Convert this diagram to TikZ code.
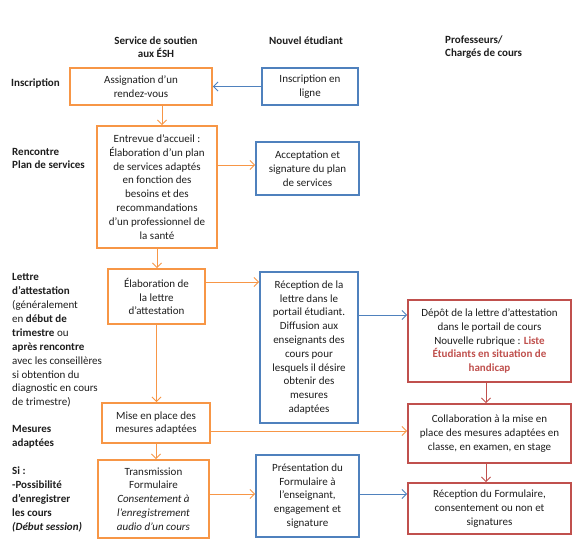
\documentclass[tikz,border=0pt]{standalone}
\usepackage{fontspec}
\setmainfont{Carlito}
\usetikzlibrary{arrows.meta}
\definecolor{orng}{HTML}{F79646}
\definecolor{blu}{HTML}{4F81BD}
\definecolor{rd}{HTML}{C0504D}
\definecolor{txt}{HTML}{1E1E1E}
\begin{document}
\begin{tikzpicture}[x=1pt,y=-1pt,
  every node/.style={font=\fontsize{11}{13.8}\selectfont, text=txt, inner sep=0pt},
  boxbase/.style={draw, line width=1.8pt, fill=white, align=center},
  obox/.style={boxbase, draw=orng},
  bbox/.style={boxbase, draw=blu},
  rbox/.style={boxbase, draw=rd},
  lbl/.style={anchor=west, align=left, font=\fontsize{11}{13.9}\selectfont},
  hdr/.style={font=\fontsize{11}{12.7}\selectfont\bfseries},
  arr/.style={line width=0.9pt, -{Straight Barb[length=4.5pt,width=9pt]}},
  oarr/.style={arr, draw=orng},
  barr/.style={arr, draw=blu},
  rarr/.style={arr, draw=rd}]
\useasboundingbox (0,0) rectangle (585,543);
\fill[white] (0,0) rectangle (585,543);

% headers
\node[hdr, align=center] (h1) at (156,47) {Service de soutien\\aux ÉSH};
\node[hdr] (h2) at (306,41) {Nouvel étudiant};
\node[hdr, align=left, anchor=west] (h3) at (445,47) {Professeurs/\\Chargés de cours};

% left labels
\node[lbl] (l1) at (11,83) {\textbf{Inscription}};
\node[lbl] (l2) at (12,158.5) {\textbf{Rencontre}\\\textbf{Plan de services}};
\node[lbl] (l3) at (12,340.5) {\textbf{Lettre}\\\textbf{d’attestation}\\(généralement\\en \textbf{début de}\\\textbf{trimestre} ou\\\textbf{après rencontre}\\avec les conseillères\\si obtention du\\diagnostic en cours\\de trimestre)};
\node[lbl] (l4) at (12,436.5) {\textbf{Mesures}\\\textbf{adaptées}};
\node[lbl] (l5) at (12,499.5) {\textbf{Si :}\\\textbf{-Possibilité}\\\textbf{d’enregistrer}\\\textbf{les cours}\\\textbf{\textit{(Début session)}}};

% column A
\node[obox, minimum width=142pt, minimum height=37pt] (A1) at (141,86.5) {Assignation d’un\\rendez-vous};
\node[obox, minimum width=120pt, minimum height=122pt] (A2) at (157,187) {Entrevue d’accueil :\\Élaboration d’un plan\\de services adaptés\\en fonction des\\besoins et des\\recommandations\\d’un professionnel de\\la santé};
\node[obox, minimum width=97pt, minimum height=55pt] (A3) at (156.5,296.5) {Élaboration de\\la lettre\\d’attestation};
\node[obox, minimum width=108pt, minimum height=40pt] (A4) at (156,423) {Mise en place des\\mesures adaptées};
\node[obox, minimum width=111pt, minimum height=78pt] (A5) at (153.5,499) {Transmission\\Formulaire\\\textit{Consentement à}\\\textit{l’enregistrement}\\\textit{audio d’un cours}};

% column B
\node[bbox, minimum width=96pt, minimum height=37pt] (B1) at (310,86.5) {Inscription en\\ligne};
\node[bbox, minimum width=103pt, minimum height=53pt] (B2) at (307.5,168.5) {Acceptation et\\signature du plan\\de services};
\node[bbox, minimum width=98pt, minimum height=151pt] (B3) at (309,347.5) {Réception de la\\lettre dans le\\portail étudiant.\\Diffusion aux\\enseignants des\\cours pour\\lesquels il désire\\obtenir des\\mesures\\adaptées};
\node[bbox, minimum width=103pt, minimum height=82pt] (B5) at (307.5,496) {Présentation du\\Formulaire à\\l’enseignant,\\engagement et\\signature};

% column C
\node[rbox, minimum width=163pt, minimum height=82pt] (C3) at (489.5,341) {Dépôt de la lettre d’attestation\\dans le portail de cours\\Nouvelle rubrique : \textcolor{rd}{\textbf{Liste}}\\\textcolor{rd}{\textbf{Étudiants en situation de}}\\\textcolor{rd}{\textbf{handicap}}};
\node[rbox, minimum width=163pt, minimum height=59pt] (C4) at (489.5,433.5) {Collaboration à la mise en\\place des mesures adaptées en\\classe, en examen, en stage};
\node[rbox, minimum width=163pt, minimum height=51pt] (C5) at (489.5,508.5) {Réception du Formulaire,\\consentement ou non et\\signatures};

% helper coordinates
\coordinate (x162) at (162,0);
\coordinate (x486) at (486,0);
\coordinate (y165) at (0,165);
\coordinate (y282) at (0,282);
\coordinate (y315) at (0,315);
\coordinate (y431) at (0,431);
\coordinate (y494) at (0,494);

% connectors
\draw[barr] (B1.west) -- (A1.east);
\draw[oarr] (A1.south -| x162) -- (A2.north -| x162);
\draw[oarr] (A2.east |- y165) -- (B2.west |- y165);
\draw[oarr] (A2.south) -- (A3.north -| A2.south);
\draw[oarr] (A3.east |- y282) -- (B3.west |- y282);
\draw[barr] (B3.east |- y315) -- (C3.west |- y315);
\draw[oarr] (A3.south) -- (A4.north -| A3.south);
\draw[oarr] (A4.east |- y431) -- (C4.west |- y431);
\draw[rarr] (C3.south -| x486) -- (C4.north -| x486);
\draw[oarr] (A4.south) -- (A5.north -| A4.south);
\draw[oarr] (A5.east |- y494) -- (B5.west |- y494);
\draw[barr] (B5.east |- y494) -- (C5.west |- y494);
\draw[rarr] (C4.south -| x486) -- (C5.north -| x486);
\end{tikzpicture}
\end{document}
